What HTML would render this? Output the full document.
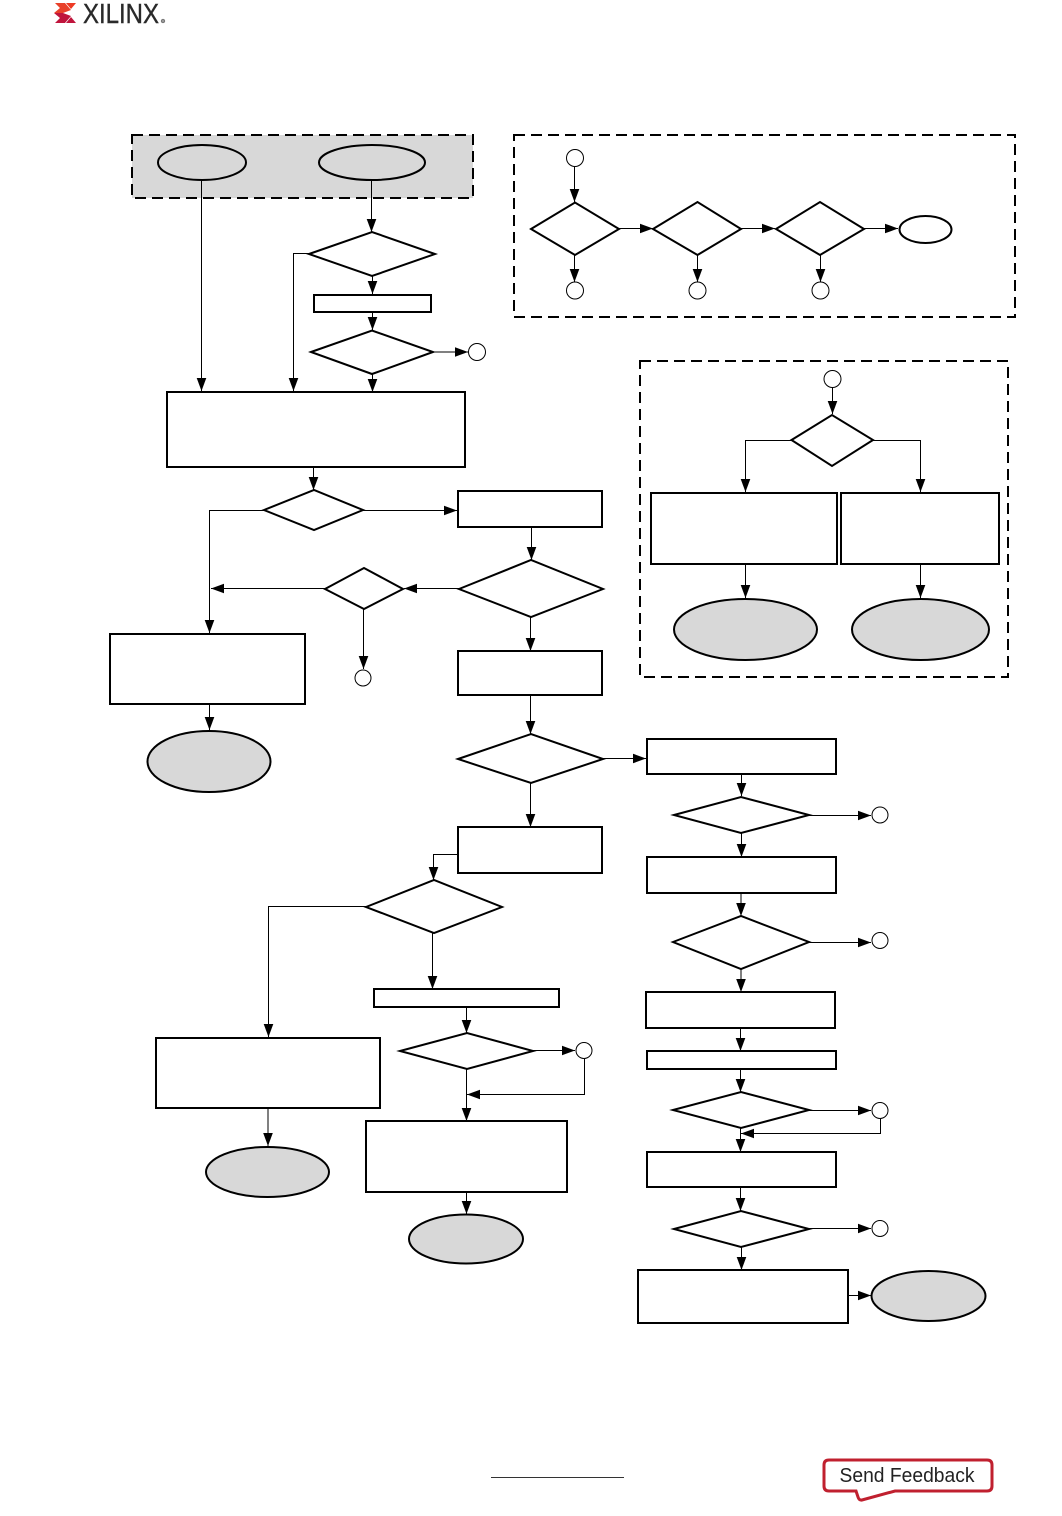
<!DOCTYPE html>
<html><head><meta charset="utf-8"><style>
html,body{margin:0;padding:0;background:#fff}
svg{display:block}
.s{fill:#fff;stroke:#000;stroke-width:2}
.g{fill:#d8d8d8;stroke:#000;stroke-width:2}
.c{fill:#fff;stroke:#000;stroke-width:1}
.l{fill:none;stroke:#000;stroke-width:1;marker-end:url(#a)}
.d{fill:none;stroke:#000;stroke-width:2;stroke-dasharray:11 6}
</style></head><body>
<svg width="1062" height="1516" viewBox="0 0 1062 1516" xmlns="http://www.w3.org/2000/svg">
<defs><marker id="a" markerUnits="userSpaceOnUse" markerWidth="14" markerHeight="12" refX="13" refY="6" orient="auto"><path d="M0 1.200 L13 6 L0 10.800 Z" fill="#000"/></marker></defs>

<!-- logo -->
<polygon points="55,3 65,3 71,10 63,13 54,13 60,8" fill="#e8412a"/>
<polygon points="54,13 63,13 71,16 65,23 55,23 60,18" fill="#c0143c"/>
<polygon points="66,3 76,3 71,9" fill="#ee3a24"/>
<polygon points="71,17 76,23 66,23" fill="#c0143c"/>
<text x="83" y="23" font-family="Liberation Sans, sans-serif" font-size="27.500" fill="#2a2a2a" stroke="#2a2a2a" stroke-width="0.400" textLength="76" lengthAdjust="spacingAndGlyphs">XILINX</text>
<circle cx="163" cy="21" r="1.800" fill="#999" stroke="#666" stroke-width="0.700"/>

<!-- top-left group -->
<rect x="132" y="135" width="341" height="63" fill="#d8d8d8" stroke="none"/>
<rect x="132" y="135" width="341" height="63" class="d"/>
<ellipse cx="202" cy="162.500" rx="44" ry="17.500" class="g"/>
<ellipse cx="372" cy="162.500" rx="53" ry="17.500" class="g"/>
<path class="l" d="M201.500 180V391"/>
<path class="l" d="M371.500 180V232"/>
<polygon class="s" points="309,254 372,232 435,254 372,276"/>
<path class="l" d="M309 253.500H293.500V391"/>
<path class="l" d="M372.500 276V294"/>
<rect class="s" x="314" y="295" width="117" height="17"/>
<path class="l" d="M372.500 312V330"/>
<polygon class="s" points="311,352 372,330.500 433,352 372,374"/>
<path class="l" d="M433 352H468"/>
<circle class="c" cx="477" cy="352" r="8.500"/>
<path class="l" d="M372.500 374V392"/>
<rect class="s" x="167" y="392" width="298" height="75"/>
<path class="l" d="M313.500 467V490"/>
<polygon class="s" points="264,510 314,490 363,510 314,530"/>
<path class="l" d="M363 510.500H457"/>
<rect class="s" x="458" y="491" width="144" height="36"/>
<path class="l" d="M264 510.500H209.500V633"/>
<path class="l" d="M531.500 527V560"/>
<polygon class="s" points="459,589 531,560 603,589 531,617"/>
<path class="l" d="M459 588.500H404"/>
<polygon class="s" points="325,589 364,568 403,589 364,609"/>
<path class="l" d="M325 588.500H211"/>
<path class="l" d="M363.500 609V669"/>
<circle class="c" cx="363" cy="678" r="8"/>
<path class="l" d="M530.500 617V651"/>
<rect class="s" x="458" y="651" width="144" height="44"/>
<rect class="s" x="110" y="634" width="195" height="70"/>
<path class="l" d="M209.500 704V730"/>
<ellipse class="g" cx="209" cy="761.500" rx="61.500" ry="30.500"/>
<path class="l" d="M530.500 695V734"/>
<polygon class="s" points="458,759 531,734 603,759 531,783"/>
<path class="l" d="M603 758.500H646"/>
<rect class="s" x="647" y="739" width="189" height="35"/>
<path class="l" d="M530.500 783V827"/>
<rect class="s" x="458" y="827" width="144" height="46"/>
<path class="l" d="M458 854.500H433.500V880"/>
<polygon class="s" points="366,907 434,880 502,907 434,933"/>
<path class="l" d="M366 906.500H268.500V1037"/>
<rect class="s" x="156" y="1038" width="224" height="70"/>
<path class="l" d="M268 1108V1146"/>
<ellipse class="g" cx="267.500" cy="1172" rx="61.500" ry="25"/>
<path class="l" d="M432.500 933V989"/>
<rect class="s" x="374" y="989" width="185" height="18"/>
<path class="l" d="M466.500 1007V1033"/>
<polygon class="s" points="400,1051 467,1033 533,1051 467,1069"/>
<path class="l" d="M533 1050.500H575"/>
<circle class="c" cx="584" cy="1050.500" r="8"/>
<path class="l" d="M584.500 1059V1094.500H467"/>
<path class="l" d="M466.500 1069V1121"/>
<rect class="s" x="366" y="1121" width="201" height="71"/>
<path class="l" d="M466.500 1192V1214"/>
<ellipse class="g" cx="466" cy="1239" rx="57" ry="24.500"/>

<!-- right column -->
<path class="l" d="M741.500 774V796"/>
<polygon class="s" points="674,815 741,797 809,815 741,833"/>
<path class="l" d="M809 815.500H871"/>
<circle class="c" cx="880" cy="815" r="8"/>
<path class="l" d="M741.500 833V857"/>
<rect class="s" x="647" y="857" width="189" height="36"/>
<path class="l" d="M741 893V916"/>
<polygon class="s" points="673,942 741,916 809,942 741,969"/>
<path class="l" d="M809 942.500H871"/>
<circle class="c" cx="880" cy="940.500" r="8"/>
<path class="l" d="M741 969V992"/>
<rect class="s" x="646" y="992" width="189" height="36"/>
<path class="l" d="M740.500 1028V1051"/>
<rect class="s" x="647" y="1051" width="189" height="18"/>
<path class="l" d="M740.500 1069V1092"/>
<polygon class="s" points="673,1110 741,1092 809,1110 741,1128"/>
<path class="l" d="M809 1110.500H871"/>
<circle class="c" cx="880" cy="1110.500" r="8"/>
<path class="l" d="M880.500 1119V1133.500H741"/>
<path class="l" d="M740.500 1128V1152"/>
<rect class="s" x="647" y="1152" width="189" height="35"/>
<path class="l" d="M740.500 1187V1211"/>
<polygon class="s" points="674,1229 741,1211 809,1229 741,1247"/>
<path class="l" d="M809 1228.500H871"/>
<circle class="c" cx="880" cy="1228.500" r="8"/>
<path class="l" d="M741.500 1247V1270"/>
<rect class="s" x="638" y="1270" width="210" height="53"/>
<path class="l" d="M848 1295.500H871"/>
<ellipse class="g" cx="928.500" cy="1296" rx="57" ry="25"/>

<!-- top-right group -->
<rect class="d" x="514" y="135" width="501" height="182"/>
<circle class="c" cx="575" cy="158" r="8.500"/>
<path class="l" d="M574.500 167V202"/>
<polygon class="s" points="531,229 575,202.500 619,229 575,255"/>
<path class="l" d="M619 228.500H653"/>
<polygon class="s" points="653,229 697.500,202 741,229 697.500,255"/>
<path class="l" d="M741 228.500H775"/>
<polygon class="s" points="776,229 820,202 864,229 820,255"/>
<path class="l" d="M864 228.500H898"/>
<ellipse class="s" cx="925.500" cy="229.500" rx="26" ry="13.500"/>
<path class="l" d="M574.500 255V282"/>
<circle class="c" cx="575" cy="290.500" r="8.500"/>
<path class="l" d="M697.500 255V282"/>
<circle class="c" cx="697.500" cy="290.500" r="8.500"/>
<path class="l" d="M820.500 255V282"/>
<circle class="c" cx="820.500" cy="290.500" r="8.500"/>

<!-- middle-right group -->
<rect class="d" x="640" y="361" width="368" height="316"/>
<circle class="c" cx="832.500" cy="379" r="8.500"/>
<path class="l" d="M832.500 388V414"/>
<polygon class="s" points="791.500,440 832,415 873,440 832,466"/>
<path class="l" d="M791 440.500H745.500V492"/>
<path class="l" d="M873 440.500H920.500V492"/>
<rect class="s" x="651" y="493" width="186" height="71"/>
<rect class="s" x="841" y="493" width="158" height="71"/>
<path class="l" d="M745.500 564V598"/>
<path class="l" d="M920.500 564V598"/>
<ellipse class="g" cx="745.500" cy="629.500" rx="71.500" ry="30.500"/>
<ellipse class="g" cx="920.500" cy="629.500" rx="68.500" ry="30.500"/>

<!-- footer -->
<path d="M491 1477.500H624" stroke="#333" stroke-width="1" fill="none"/>
<path d="M829 1460H987Q992 1460 992 1465V1486Q992 1491 987 1491H895L862 1500Q859 1500.500 858 1497L856 1491H829Q824 1491 824 1486V1465Q824 1460 829 1460Z" fill="#fff" stroke="#c0202f" stroke-width="3"/>
<text x="839.500" y="1482" font-family="Liberation Sans, sans-serif" font-size="20" fill="#222" textLength="135" lengthAdjust="spacingAndGlyphs">Send Feedback</text>
</svg>
</body></html>
